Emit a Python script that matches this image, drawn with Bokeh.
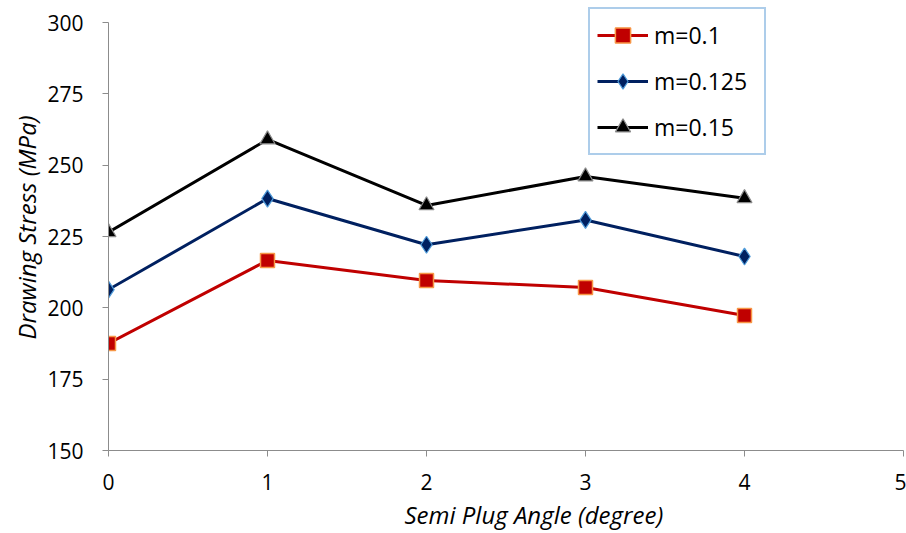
from bokeh.plotting import figure
from bokeh.models import Range1d, FixedTicker, Legend, LegendItem, Title
from bokeh.embed import file_html
from bokeh.resources import INLINE

angles = [0, 1, 2, 3, 4]
m_010 = [187.5, 216.6, 209.6, 207.1, 197.3]
m_0125 = [206.4, 238.3, 222.1, 230.8, 218.0]
m_015 = [226.5, 259.0, 235.9, 246.0, 238.4]
labels = ["m=0.1", "m=0.125", "m=0.15"]
x_ticks = [0, 1, 2, 3, 4, 5]
y_ticks = [150, 175, 200, 225, 250, 275, 300]
x_title = "Semi Plug Angle (degree)"
y_title = "Drawing Stress (MPa)"

FONT = "Open Sans"

# frame extends 18 px above the 300 tick so that the legend box fits
p = figure(width=906, height=533, output_backend="svg", toolbar_location=None,
           x_range=Range1d(0, 5), y_range=Range1d(150, 300 + 18 / 2.853),
           min_border_left=108, min_border_right=3, min_border_top=4, min_border_bottom=83)
p.outline_line_color = None
p.xgrid.visible = False
p.ygrid.visible = False
p.background_fill_color = "white"
p.border_fill_color = "white"

for ax in (p.xaxis[0], p.yaxis[0]):
    ax.axis_line_color = "#8c8c8c"
    ax.axis_line_width = 1
    ax.major_tick_line_color = "#8c8c8c"
    ax.minor_tick_line_color = None
    ax.major_tick_out = 6
    ax.major_tick_in = 0
    ax.major_label_text_font = FONT
    ax.major_label_text_font_size = "21px"
    ax.major_label_text_color = "black"

p.yaxis.bounds = (150, 300)
p.xaxis.ticker = FixedTicker(ticks=x_ticks)
p.yaxis.ticker = FixedTicker(ticks=y_ticks)
p.xaxis.major_label_standoff = 17
p.yaxis.major_label_standoff = 19

xt = Title(text=x_title, align="left", offset=296, text_font=FONT, text_font_size="24px",
           text_font_style="italic", text_color="black", standoff=6)
p.add_layout(xt, "below")
yt = Title(text=y_title, align="center", offset=10, text_font=FONT, text_font_size="24px",
           text_font_style="italic", text_color="black", standoff=4)
p.add_layout(yt, "left")

r1 = p.line(angles, m_010, line_color="#C00000", line_width=3)
s1 = p.scatter(angles, m_010, marker="square", size=14, fill_color="#C00000",
               line_color="#F79646", line_width=1.5)
r2 = p.line(angles, m_0125, line_color="#002060", line_width=3)
s2 = p.scatter(angles, m_0125, marker="diamond", size=17, fill_color="#002060",
               line_color="#4F9BD9", line_width=1.2)
r3 = p.line(angles, m_015, line_color="black", line_width=3)
s3 = p.scatter(angles, m_015, marker="triangle", size=15, fill_color="black",
               line_color="#8c8c8c", line_width=1.2)

legend = Legend(items=[LegendItem(label=labels[0], renderers=[r1, s1]),
                       LegendItem(label=labels[1], renderers=[r2, s2]),
                       LegendItem(label=labels[2], renderers=[r3, s3])],
                location=(480, 295))
legend.border_line_color = "#5B9BD5"
legend.border_line_width = 2
legend.background_fill_color = "white"
legend.background_fill_alpha = 1
legend.label_text_font = FONT
legend.label_text_font_size = "23px"
legend.label_text_color = "black"
legend.glyph_width = 51
legend.glyph_height = 38
legend.label_height = 38
legend.label_width = 103
legend.spacing = 8
legend.padding = 7
legend.margin = 0
legend.label_standoff = 6
p.add_layout(legend, "center")

open("out.html", "w").write(file_html(p, INLINE))
